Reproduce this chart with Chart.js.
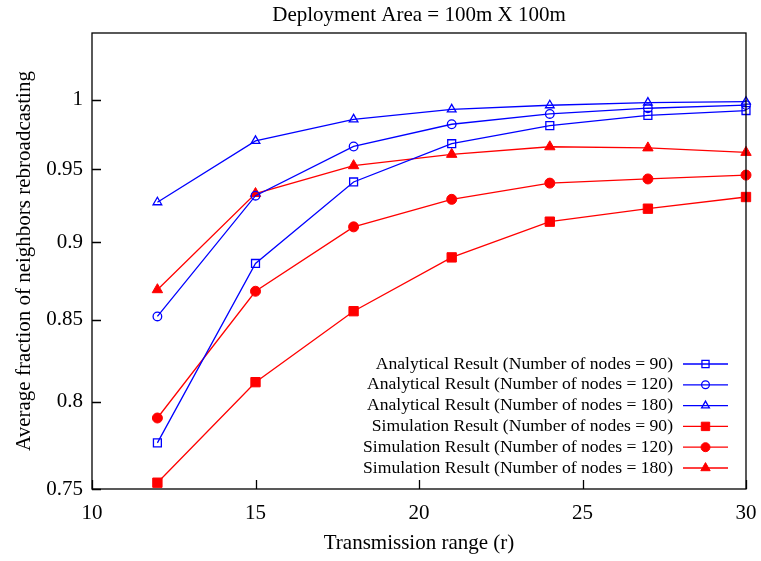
<!DOCTYPE html>
<html>
<head>
<meta charset="utf-8">
<script src="https://cdn.jsdelivr.net/npm/chart.js@4.4.1/dist/chart.umd.min.js"></script>
<style>
    html, body { margin: 0; padding: 0; background: #fff; }
    canvas { display: block; }
</style>
</head>
<body>
<canvas id="rebroadcastChart" width="761" height="561"></canvas>
<script>
// transmission range (r)
var rangeValues = [12, 15, 18, 21, 24, 27, 30];

// analytical results
var analytical90 = [0.776, 0.886, 0.941, 0.968, 0.981, 0.9885, 0.992];
var analytical120 = [0.852, 0.9315, 0.966, 0.982, 0.9895, 0.9937, 0.996];
var analytical180 = [0.927, 0.970, 0.9856, 0.9929, 0.9959, 0.9978, 0.9985];

// simulation results
var simulation90 = [0.7535, 0.8116, 0.8553, 0.890, 0.9138, 0.9226, 0.9306];
var simulation120 = [0.7904, 0.868, 0.9103, 0.929, 0.9402, 0.9431, 0.9458];
var simulation180 = [0.869, 0.933, 0.9524, 0.9604, 0.9658, 0.965, 0.9618];

var yTickValues = [0.75, 0.8, 0.85, 0.9, 0.95, 1];
var xTickValues = [10, 15, 20, 25, 30];

var seriesLabels = [
    'Analytical Result (Number of nodes = 90)',
    'Analytical Result (Number of nodes = 120)',
    'Analytical Result (Number of nodes = 180)',
    'Simulation Result (Number of nodes = 90)',
    'Simulation Result (Number of nodes = 120)',
    'Simulation Result (Number of nodes = 180)'
];

var BLUE = '#0000ff';
var RED = '#ff0000';
var FONT = '"Liberation Serif", "Times New Roman", serif';

function toPoints(values) {
    return rangeValues.map(function (x, i) {
        return { x: x, y: values[i] };
    });
}

function makeDataset(label, values, color, style, radius, filled) {
    return {
        label: label,
        data: toPoints(values),
        borderColor: color,
        backgroundColor: color,
        borderWidth: 1.3,
        tension: 0,
        clip: false,
        pointStyle: style,
        pointRadius: radius,
        pointHoverRadius: radius,
        pointBorderWidth: filled ? 1 : 1.3,
        pointBorderColor: color,
        pointBackgroundColor: filled ? color : 'rgba(0,0,0,0)'
    };
}

var datasets = [
    makeDataset(seriesLabels[0], analytical90, BLUE, 'rect', 5.6, false),
    makeDataset(seriesLabels[1], analytical120, BLUE, 'circle', 4.3, false),
    makeDataset(seriesLabels[2], analytical180, BLUE, 'triangle', 5, false),
    makeDataset(seriesLabels[3], simulation90, RED, 'rect', 6.6, true),
    makeDataset(seriesLabels[4], simulation120, RED, 'circle', 5, true),
    makeDataset(seriesLabels[5], simulation180, RED, 'triangle', 6, true)
];

// frame around the plot plus gnuplot style inward ticks
var framePlugin = {
    id: 'frame',
    afterDraw: function (chart) {
        var ctx = chart.ctx;
        var area = chart.chartArea;
        var xScale = chart.scales.x;
        var yScale = chart.scales.y;
        ctx.save();
        ctx.strokeStyle = '#000';
        ctx.lineWidth = 1.3;
        ctx.beginPath();
        xTickValues.forEach(function (v) {
            var px = Math.round(xScale.getPixelForValue(v)) + 0.5;
            ctx.moveTo(px, area.bottom);
            ctx.lineTo(px, area.bottom - 9);
        });
        yTickValues.forEach(function (v) {
            var py = Math.round(yScale.getPixelForValue(v)) + 0.5;
            ctx.moveTo(area.left, py);
            ctx.lineTo(area.left + 9, py);
        });
        ctx.stroke();
        ctx.strokeRect(area.left, area.top, area.right - area.left, area.bottom - area.top);
        ctx.restore();
    }
};

// legend in the lower right, text right aligned, sample on the right
var legendPlugin = {
    id: 'sideLegend',
    afterDraw: function (chart) {
        var ctx = chart.ctx;
        var area = chart.chartArea;
        var textRight = area.right - 73;
        var lineStart = area.right - 63;
        var lineEnd = area.right - 18;
        var firstRow = area.bottom - 125;
        var rowGap = 20.8;
        ctx.save();
        ctx.font = '17.6px ' + FONT;
        ctx.textAlign = 'right';
        ctx.textBaseline = 'middle';
        chart.data.datasets.forEach(function (ds, i) {
            var y = firstRow + i * rowGap;
            ctx.fillStyle = '#000';
            ctx.fillText(ds.label, textRight, y);
            ctx.strokeStyle = ds.borderColor;
            ctx.lineWidth = 1.3;
            ctx.beginPath();
            ctx.moveTo(lineStart, y);
            ctx.lineTo(lineEnd, y);
            ctx.stroke();
            ctx.fillStyle = ds.pointBackgroundColor;
            ctx.strokeStyle = ds.pointBorderColor;
            ctx.lineWidth = ds.pointBorderWidth;
            Chart.helpers.drawPoint(ctx, {
                pointStyle: ds.pointStyle,
                radius: ds.pointRadius * 0.9,
                rotation: 0,
                borderWidth: ds.pointBorderWidth
            }, (lineStart + lineEnd) / 2, y);
        });
        ctx.restore();
    }
};

var ctx = document.getElementById('rebroadcastChart').getContext('2d');
var rebroadcastChart = new Chart(ctx, {
    type: 'line',
    data: { datasets: datasets },
    options: {
        responsive: false,
        animation: false,
        layout: { padding: { left: 0, right: 15, top: 0, bottom: 0 } },
        plugins: {
            legend: { display: false },
            tooltip: { enabled: false },
            title: {
                display: true,
                text: 'Deployment Area = 100m X 100m',
                color: '#000',
                fullSize: false,
                font: { family: FONT, size: 21, weight: 'normal', lineHeight: 1.2 },
                padding: { top: 3, bottom: 4.8 }
            }
        },
        scales: {
            x: {
                type: 'linear',
                min: 10,
                max: 30,
                grid: { display: false, drawTicks: false },
                border: { display: false },
                afterBuildTicks: function (scale) {
                    scale.ticks = xTickValues.map(function (v) { return { value: v }; });
                },
                afterFit: function (scale) {
                    scale.height = 72;
                    scale.paddingLeft = 0;
                    scale.paddingRight = 0;
                },
                ticks: {
                    color: '#000',
                    padding: 12,
                    maxRotation: 0,
                    font: { family: FONT, size: 21 },
                    callback: function (v) { return String(v); }
                },
                title: {
                    display: true,
                    text: 'Transmission range (r)',
                    color: '#000',
                    font: { family: FONT, size: 21, lineHeight: 1.2 },
                    padding: { top: 0, bottom: 5 }
                }
            },
            y: {
                type: 'logarithmic',
                min: 0.75,
                max: 1.0505,
                grid: { display: false, drawTicks: false },
                border: { display: false },
                afterBuildTicks: function (scale) {
                    scale.ticks = yTickValues.map(function (v) { return { value: v }; });
                },
                afterFit: function (scale) {
                    scale.width = 92;
                    scale.paddingTop = 0;
                    scale.paddingBottom = 0;
                },
                ticks: {
                    color: '#000',
                    padding: 9,
                    font: { family: FONT, size: 21 },
                    callback: function (v) { return String(v); }
                },
                title: {
                    display: true,
                    text: 'Average fraction of neighbors rebroadcasting',
                    color: '#000',
                    font: { family: FONT, size: 21, lineHeight: 1.2 },
                    padding: { top: 12, bottom: 0 }
                }
            }
        }
    },
    plugins: [framePlugin, legendPlugin]
});
</script>
</body>
</html>
